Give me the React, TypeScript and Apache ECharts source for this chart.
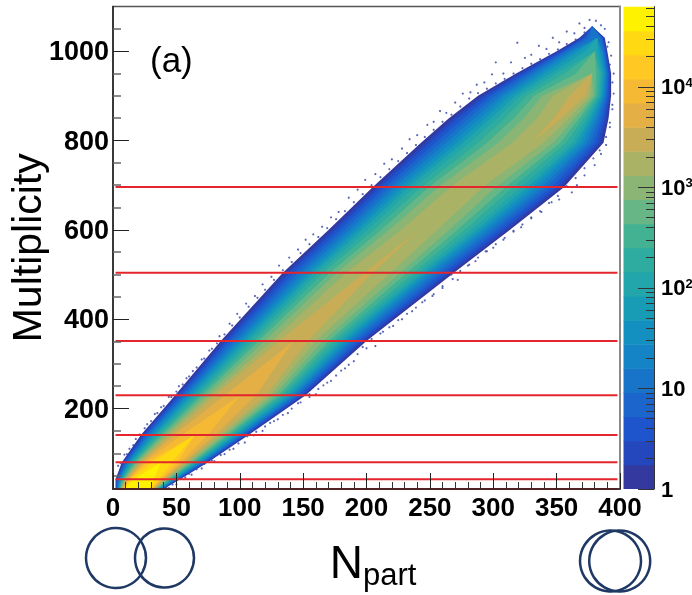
import React, { useEffect, useRef } from "react";
import * as echarts from "echarts";

// Axis tick labels
const xTickLabels = [0, 50, 100, 150, 200, 250, 300, 350, 400];
const xMinorTicks = [10, 20, 30, 40, 60, 70, 80, 90, 110, 120, 130, 140, 160, 170, 180, 190, 210, 220, 230, 240, 260, 270, 280, 290, 310, 320, 330, 340, 360, 370, 380, 390];
const yTickLabels = [200, 400, 600, 800, 1000];
const yMinorTicks = [50, 100, 150, 250, 300, 350, 450, 500, 550, 650, 700, 750, 850, 900, 950, 1050];

// Centrality selection lines (multiplicity)
const centralityCuts = [20, 42, 80, 141, 230, 351, 504, 696];

// Colour scale: 20 steps of counts, bottom to top
const paletteSteps = [
  "#33399f", "#2547bd", "#1f55cc", "#1b65cd", "#1774c9", "#1484c6", "#1390c0", "#189cb5",
  "#22a5ab", "#2faca0", "#42b293", "#66b785", "#8bb574", "#a9b265", "#c8ad56", "#e4af45",
  "#f6b934", "#ffc822", "#ffda12", "#fff200",
];
const colorbarMajor = [1, 10, 100, 1000, 10000];
const colorbarMinor = [2, 3, 4, 5, 6, 7, 8, 9, 20, 30, 40, 50, 60, 70, 80, 90, 200, 300, 400, 500, 600, 700, 800, 900, 2000, 3000, 4000, 5000, 6000, 7000, 8000, 9000, 20000, 30000, 40000, 50000, 60000];
const colorbarMaxCount = 63096;

const rowMultiplicity = [20, 42, 80, 141, 230, 351, 504, 600, 696, 795, 850, 900, 950, 1000, 1030, 1056];
const edgeLeft = [2, 2, 7, 22, 49, 85, 134, 170, 205, 243, 265, 288, 318, 350, 368, 378];
const edgeRight = [40, 53, 75, 107, 152, 200, 269, 313, 356, 387, 391, 393, 393, 390, 388, 378];
const ridge = [17, 23, 38, 64.5, 100.5, 142.5, 201.5, 241.5, 279, 330, 352, 370, 378, 380, 382, 378];

// Contour width of colour levels 1..19 on each row, % of the distance from ridge to edge
const widthRow20 = [98, 96, 94, 92, 90, 88, 85, 83, 81, 78, 76, 73, 71, 68, 65, 62, 59, 55, 52];
const widthRow42 = [98, 95, 93, 90, 87, 85, 82, 80, 77, 74, 71, 67, 64, 60, 56, 52, 48, 43, 30];
const widthRow80 = [97, 95, 92, 89, 86, 83, 80, 77, 73, 70, 66, 62, 58, 53, 48, 42, 34, 22, 0];
const widthRow141 = [97, 94, 91, 88, 85, 81, 77, 74, 70, 65, 61, 56, 51, 45, 38, 24, 0, 0, 0];
const widthRow230 = [97, 94, 90, 87, 83, 80, 76, 72, 67, 63, 58, 52, 46, 39, 24, 0, 0, 0, 0];
const widthRow351 = [96, 92, 88, 83, 78, 74, 70, 65, 60, 54, 48, 40, 30, 20, 0, 0, 0, 0, 0];
const widthRow504 = [96, 92, 87, 82, 77, 72, 68, 64, 59, 53, 45, 37, 26, 5, 0, 0, 0, 0, 0];
const widthRow600 = [96, 92, 87, 82, 77, 72, 68, 63, 57, 50, 42, 33, 20, 0, 0, 0, 0, 0, 0];
const widthRow696 = [96, 92, 87, 82, 77, 72, 67, 62, 56, 48, 40, 30, 17, 0, 0, 0, 0, 0, 0];
const widthRow795 = [96, 92, 87, 82, 77, 72, 67, 62, 56, 48, 40, 30, 17, 0, 0, 0, 0, 0, 0];
const widthRow850 = [96, 92, 87, 82, 77, 72, 67, 62, 56, 49, 41, 32, 20, 5, 0, 0, 0, 0, 0];
const widthRow900 = [96, 92, 88, 83, 78, 74, 69, 64, 59, 53, 46, 38, 28, 12, 0, 0, 0, 0, 0];
const widthRow950 = [96, 91, 86, 81, 75, 69, 63, 55, 47, 36, 21, 0, 0, 0, 0, 0, 0, 0, 0];
const widthRow1000 = [94, 87, 80, 73, 64, 54, 42, 24, 0, 0, 0, 0, 0, 0, 0, 0, 0, 0, 0];
const widthRow1030 = [89, 77, 63, 44, 0, 0, 0, 0, 0, 0, 0, 0, 0, 0, 0, 0, 0, 0, 0];
const widthRow1056 = [0, 0, 0, 0, 0, 0, 0, 0, 0, 0, 0, 0, 0, 0, 0, 0, 0, 0, 0];
const contourWidths = [
  widthRow20, widthRow42, widthRow80, widthRow141, widthRow230, widthRow351, widthRow504, widthRow600,
  widthRow696, widthRow795, widthRow850, widthRow900, widthRow950, widthRow1000, widthRow1030, widthRow1056,
];

// Sparse single-count events outside the band
const strayUpper = [[4, 72], [9, 97], [13, 110], [18, 132], [27, 165], [33, 188], [38, 203], [44, 226], [52, 250], [58, 268], [63, 284], [70, 310], [76, 330], [84, 362], [92, 390], [98, 412], [105, 435], [112, 452], [118, 478], [125, 495], [131, 520], [139, 538], [146, 556], [152, 578], [158, 590], [165, 607], [172, 628], [178, 640], [186, 672], [193, 690], [199, 712], [207, 725], [214, 748], [220, 758], [228, 782], [234, 803], [240, 812], [248, 835], [253, 842], [258, 866], [263, 862], [270, 885], [276, 905], [282, 908], [287, 925], [293, 930], [299, 948], [302, 975], [308, 950], [314, 975], [319, 1019], [325, 985], [330, 992], [336, 1012], [342, 1005], [347, 1030], [352, 1020], [358, 1044], [364, 1040], [368, 1062], [372, 1052], [376, 1070], [381, 1068], [385, 1058], [388, 1050]];
const strayLower = [[44, 22], [50, 30], [57, 46], [62, 52], [70, 66], [80, 82], [88, 98], [95, 110], [104, 124], [111, 140], [118, 150], [124, 168], [130, 176], [138, 190], [146, 212], [155, 226], [160, 232], [166, 252], [172, 262], [180, 285], [186, 298], [193, 322], [200, 335], [207, 340], [213, 372], [221, 385], [228, 400], [236, 418], [244, 438], [252, 452], [260, 470], [268, 490], [272, 488], [280, 520], [286, 530], [294, 552], [300, 560], [308, 578], [316, 598], [322, 606], [330, 628], [338, 640], [346, 662], [352, 668], [362, 684], [366, 700], [372, 722], [380, 745], [385, 770], [389, 790], [392, 830], [394, 870], [395, 905], [395, 950], [393, 990], [391, 1020]];
const fringeUpper = [[6, 78], [11, 98], [16, 118], [21, 142], [25, 156], [30, 172], [35, 190], [40, 206], [46, 226], [50, 238], [55, 254], [60, 272], [66, 292], [72, 312], [78, 334], [82, 346], [88, 366], [94, 386], [100, 404], [107, 428], [114, 448], [120, 466], [127, 488], [134, 510], [141, 528], [148, 548], [155, 568], [162, 584], [169, 604], [176, 624], [183, 642], [190, 662], [197, 680], [204, 700], [211, 718], [218, 736], [225, 754], [232, 772], [239, 790], [246, 808], [253, 824], [260, 842], [267, 858], [274, 876], [281, 894], [288, 906], [295, 916], [302, 928], [309, 938], [316, 950], [323, 962], [330, 972], [337, 982], [344, 994], [351, 1004], [358, 1016], [365, 1026], [372, 1042]];
const fringeLower = [[42, 24], [47, 30], [54, 44], [60, 54], [66, 64], [72, 76], [78, 84], [85, 96], [92, 108], [99, 122], [106, 138], [113, 148], [120, 160], [127, 172], [134, 186], [141, 200], [148, 214], [155, 232], [162, 244], [169, 258], [176, 274], [183, 290], [190, 306], [197, 338], [204, 356], [211, 368], [218, 382], [225, 398], [232, 412], [239, 426], [246, 442], [253, 456], [260, 474], [267, 500], [274, 508], [281, 522], [288, 538], [295, 552], [302, 568], [309, 582], [316, 596], [323, 612], [330, 626], [337, 642], [344, 660], [351, 676], [358, 698], [365, 716], [372, 738], [379, 760], [384, 778], [389, 808], [392, 840], [394, 880], [394, 930], [392, 970], [390, 1010]];

const FONT = "'Liberation Sans', Arial, sans-serif";
const NAVY = "#1f3864";

function bandOutline(level: number): [number, number][] {
  const fraction = (row: number) => (level === 0 ? 1 : contourWidths[row][level - 1] / 100);
  const left = rowMultiplicity.map((m, r): [number, number] => [ridge[r] - fraction(r) * (ridge[r] - edgeLeft[r]), m]);
  const right = rowMultiplicity.map((m, r): [number, number] => [ridge[r] + fraction(r) * (edgeRight[r] - ridge[r]), m]);
  return left.concat(right.reverse());
}

const superscripts: Record<number, string> = { 100: "2", 1000: "3", 10000: "4" };

export default function App() {
  const ref = useRef<HTMLDivElement>(null);
  useEffect(() => {
    const chart = echarts.init(ref.current!, undefined, { renderer: "svg" });
    const main = { left: 113, top: 6.5, width: 507, height: 482.5, outerBoundsMode: "none" };
    const bar = { left: 623.5, top: 6.5, width: 30.5, height: 482.5, outerBoundsMode: "none" };
    chart.setOption({
      animation: false,
      grid: [
        { ...main, show: true, borderColor: "#555", borderWidth: 1.5, backgroundColor: "#fff" },
        { ...bar, show: false },
      ],
      xAxis: [
        {
          gridIndex: 0, type: "value", min: 0, max: 400, position: "bottom", z: 6,
          splitLine: { show: false },
          axisLine: { onZero: false, lineStyle: { color: "#222", width: 1.5 } },
          axisTick: { inside: true, length: 16, lineStyle: { color: "#222", width: 1 }, customValues: xTickLabels },
          axisLabel: { customValues: xTickLabels, margin: 5, color: "#000", fontFamily: FONT, fontWeight: "bold", fontSize: 26 },
          name: "{n|N}{s|part}",
          nameLocation: "middle",
          nameGap: 50,
          nameMoveOverlap: false,
          nameTextStyle: {
            padding: [0, 0, 0, 13],
            rich: {
              n: { fontFamily: FONT, fontSize: 46, color: "#000", verticalAlign: "top" },
              s: { fontFamily: FONT, fontSize: 31, color: "#000", verticalAlign: "bottom", padding: [20, 0, 0, 0] },
            },
          },
        },
        {
          gridIndex: 0, type: "value", min: 0, max: 400, position: "bottom", z: 6,
          splitLine: { show: false }, axisLine: { show: false, onZero: false }, axisLabel: { show: false },
          axisTick: { inside: true, length: 7, lineStyle: { color: "#333", width: 1 }, customValues: xMinorTicks },
        },
        { gridIndex: 1, type: "value", min: 0, max: 1, show: false },
      ],
      yAxis: [
        {
          gridIndex: 0, type: "value", min: 20, max: 1100, position: "left", z: 6,
          splitLine: { show: false },
          axisLine: { show: true, onZero: false, lineStyle: { color: "#222", width: 1.5 } },
          axisTick: { show: true, inside: true, length: 16, lineStyle: { color: "#222", width: 1 }, customValues: yTickLabels },
          axisLabel: { customValues: yTickLabels, margin: 4, color: "#000", fontFamily: FONT, fontWeight: "bold", fontSize: 27, formatter: (v: number) => String(v) },
          name: "Multiplicity",
          nameLocation: "middle",
          nameGap: 66,
          nameMoveOverlap: false,
          nameRotate: 90,
          nameTextStyle: { fontFamily: FONT, fontSize: 41, color: "#000" },
        },
        {
          gridIndex: 0, type: "value", min: 20, max: 1100, position: "left", z: 6,
          splitLine: { show: false }, axisLine: { show: false, onZero: false }, axisLabel: { show: false },
          axisTick: { show: true, inside: true, length: 8, lineStyle: { color: "#666", width: 1.5 }, customValues: yMinorTicks },
        },
        {
          gridIndex: 0, type: "value", min: 20, max: 1100, position: "right", z: 6,
          splitLine: { show: false }, axisTick: { show: false }, axisLabel: { show: false },
          axisLine: { show: true, onZero: false, lineStyle: { color: "#8a8a8a", width: 2 } },
        },
        {
          gridIndex: 1, type: "value", min: 0, max: Math.log10(colorbarMaxCount), position: "right", z: 6,
          splitLine: { show: false },
          axisLine: { show: true, onZero: false, lineStyle: { color: "#333", width: 1 } },
          axisTick: { show: true, inside: true, length: 16, lineStyle: { color: "#333", width: 1 }, customValues: colorbarMajor.map(Math.log10) },
          axisLabel: {
            customValues: colorbarMajor.map(Math.log10),
            margin: 7,
            formatter: (v: number) => {
              const c = Math.round(Math.pow(10, v));
              return superscripts[c] ? `{b|10}{s|${superscripts[c]}}` : `{b|${c}}`;
            },
            rich: {
              b: { fontFamily: FONT, fontWeight: "bold", fontSize: 22, color: "#000" },
              s: { fontFamily: FONT, fontWeight: "bold", fontSize: 13, color: "#000", verticalAlign: "top", padding: [0, 0, 8, 0] },
            },
          },
        },
        {
          gridIndex: 1, type: "value", min: 0, max: Math.log10(colorbarMaxCount), position: "right", z: 6,
          splitLine: { show: false }, axisLine: { show: false, onZero: false }, axisLabel: { show: false },
          axisTick: { show: true, inside: true, length: 8, lineStyle: { color: "#333", width: 1 }, customValues: colorbarMinor.map(Math.log10) },
        },
      ],
      series: [
        {
          type: "custom", xAxisIndex: 0, yAxisIndex: 0, clip: true, z: 2, silent: true,
          data: paletteSteps.map((_, level) => [0, 20, level]),
          renderItem: (_p: any, api: any) => ({
            type: "polygon",
            shape: { points: bandOutline(api.value(2)).map((pt) => api.coord(pt)) },
            style: { fill: paletteSteps[api.value(2)] },
          }),
        },
        {
          type: "scatter", xAxisIndex: 0, yAxisIndex: 0, z: 3, silent: true,
          symbolSize: 2.2,
          itemStyle: { color: "#3d4eab", opacity: 0.85 },
          data: strayUpper.concat(strayLower, fringeUpper, fringeLower),
        },
        ...centralityCuts.map((cut) => ({
          type: "line", xAxisIndex: 0, yAxisIndex: 0, z: 4, silent: true,
          showSymbol: false,
          lineStyle: { color: "#e4252b", width: 2 },
          data: [[2, cut], [398, cut]],
        })),
        {
          type: "custom", xAxisIndex: 2, yAxisIndex: 3, clip: true, z: 2, silent: true,
          data: paletteSteps.map((_, i) => [0, i, i]),
          renderItem: (_p: any, api: any) => {
            const i = api.value(2);
            const step = Math.log10(colorbarMaxCount) / paletteSteps.length;
            const a = api.coord([0, i * step]);
            const b = api.coord([1, (i + 1) * step]);
            return {
              type: "rect",
              shape: { x: a[0], y: b[1], width: b[0] - a[0], height: a[1] - b[1] + 0.5 },
              style: { fill: paletteSteps[i] },
            };
          },
        },
      ],
      graphic: [
        { type: "text", left: 150, top: 42, style: { text: "(a)", fontFamily: FONT, fontSize: 35, fill: "#000" } },
        { type: "circle", shape: { cx: 116, cy: 558, r: 30 }, style: { fill: "none", stroke: NAVY, lineWidth: 2.5 } },
        { type: "circle", shape: { cx: 164.5, cy: 558, r: 29.5 }, style: { fill: "none", stroke: NAVY, lineWidth: 2.5 } },
        { type: "circle", shape: { cx: 610.5, cy: 561, r: 30.5 }, style: { fill: "none", stroke: NAVY, lineWidth: 2.5 } },
        { type: "circle", shape: { cx: 619.7, cy: 561, r: 30.5 }, style: { fill: "none", stroke: NAVY, lineWidth: 2.5 } },
      ],
    });
    return () => chart.dispose();
  }, []);
  return <div ref={ref} style={{ position: "fixed", left: 0, top: 0, width: 692, height: 595 }} />;
}
